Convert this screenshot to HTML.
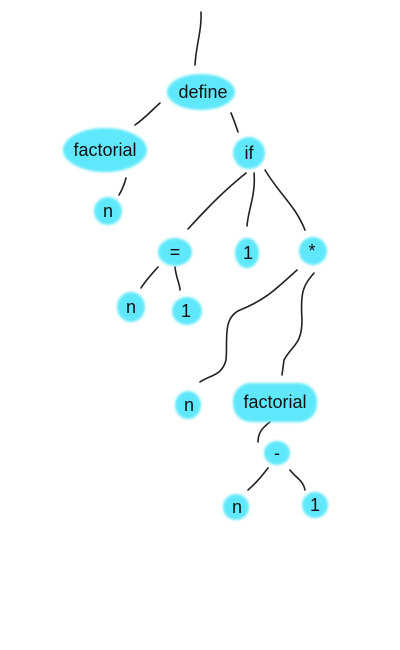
<!DOCTYPE html>
<html><head><style>
html,body{margin:0;padding:0;background:#fff;}
svg{display:block}
text{font-family:"Liberation Sans",sans-serif;font-size:18px;fill:#111;text-anchor:middle;dominant-baseline:central}
</style></head><body>
<svg width="400" height="650" viewBox="0 0 400 650">
<defs><filter id="b" x="-30%" y="-30%" width="160%" height="160%"><feGaussianBlur stdDeviation="1.2"/></filter></defs>
<g fill="none" stroke="#222" stroke-width="1.6" stroke-linecap="round">
<path d="M201,12 C202,30 196,45 195,65"/>
<path d="M160,103 C150,112 145,118 135,125"/>
<path d="M231,113 C234,120 236,126 238,132"/>
<path d="M126,178 C124,186 122,190 119,195"/>
<path d="M246,173 C225,190 210,205 188,229"/>
<path d="M254,173 C256,195 248,210 247,226"/>
<path d="M265,170 C280,195 295,205 305,230"/>
<path d="M158,267 C150,276 146,280 141,288"/>
<path d="M175,267 C176,278 180,284 180,290"/>
<path d="M297,270 C275,290 265,300 240,310 C222,318 228,340 226,360 C222,376 210,375 200,382"/>
<path d="M314,273 C304,285 300,290 302,320 C302,345 292,345 284,360 L282,375"/>
<path d="M270,422 C262,428 258,433 258,442"/>
<path d="M268,468 C262,476 255,484 248,490"/>
<path d="M290,470 C296,478 303,480 305,490"/>
</g>
<g fill="#5ee8fb" filter="url(#b)">
<ellipse cx="201" cy="92" rx="34" ry="18"/>
<ellipse cx="105" cy="150" rx="42" ry="22"/>
<ellipse cx="249" cy="153" rx="16" ry="16"/>
<ellipse cx="108" cy="211" rx="14" ry="14"/>
<ellipse cx="175" cy="252" rx="17" ry="14"/>
<ellipse cx="247" cy="253" rx="12" ry="15"/>
<ellipse cx="313" cy="251" rx="14" ry="14"/>
<ellipse cx="131" cy="307" rx="14" ry="15"/>
<ellipse cx="187" cy="311" rx="15" ry="14"/>
<ellipse cx="188" cy="405" rx="13" ry="14"/>
<rect x="233" y="383" width="84" height="39" rx="18"/>
<ellipse cx="277" cy="453" rx="13" ry="12"/>
<ellipse cx="236" cy="507" rx="13" ry="13"/>
<ellipse cx="315" cy="505" rx="13" ry="13"/>
</g>
<text x="203" y="92">define</text>
<text x="105" y="150">factorial</text>
<text x="249" y="153">if</text>
<text x="108" y="211">n</text>
<text x="175" y="252">=</text>
<text x="248" y="253">1</text>
<text x="312" y="251">*</text>
<text x="131" y="307">n</text>
<text x="186" y="311">1</text>
<text x="189" y="405">n</text>
<text x="275" y="402">factorial</text>
<text x="277" y="453">-</text>
<text x="237" y="507">n</text>
<text x="315" y="505">1</text>
</svg>
</body></html>
